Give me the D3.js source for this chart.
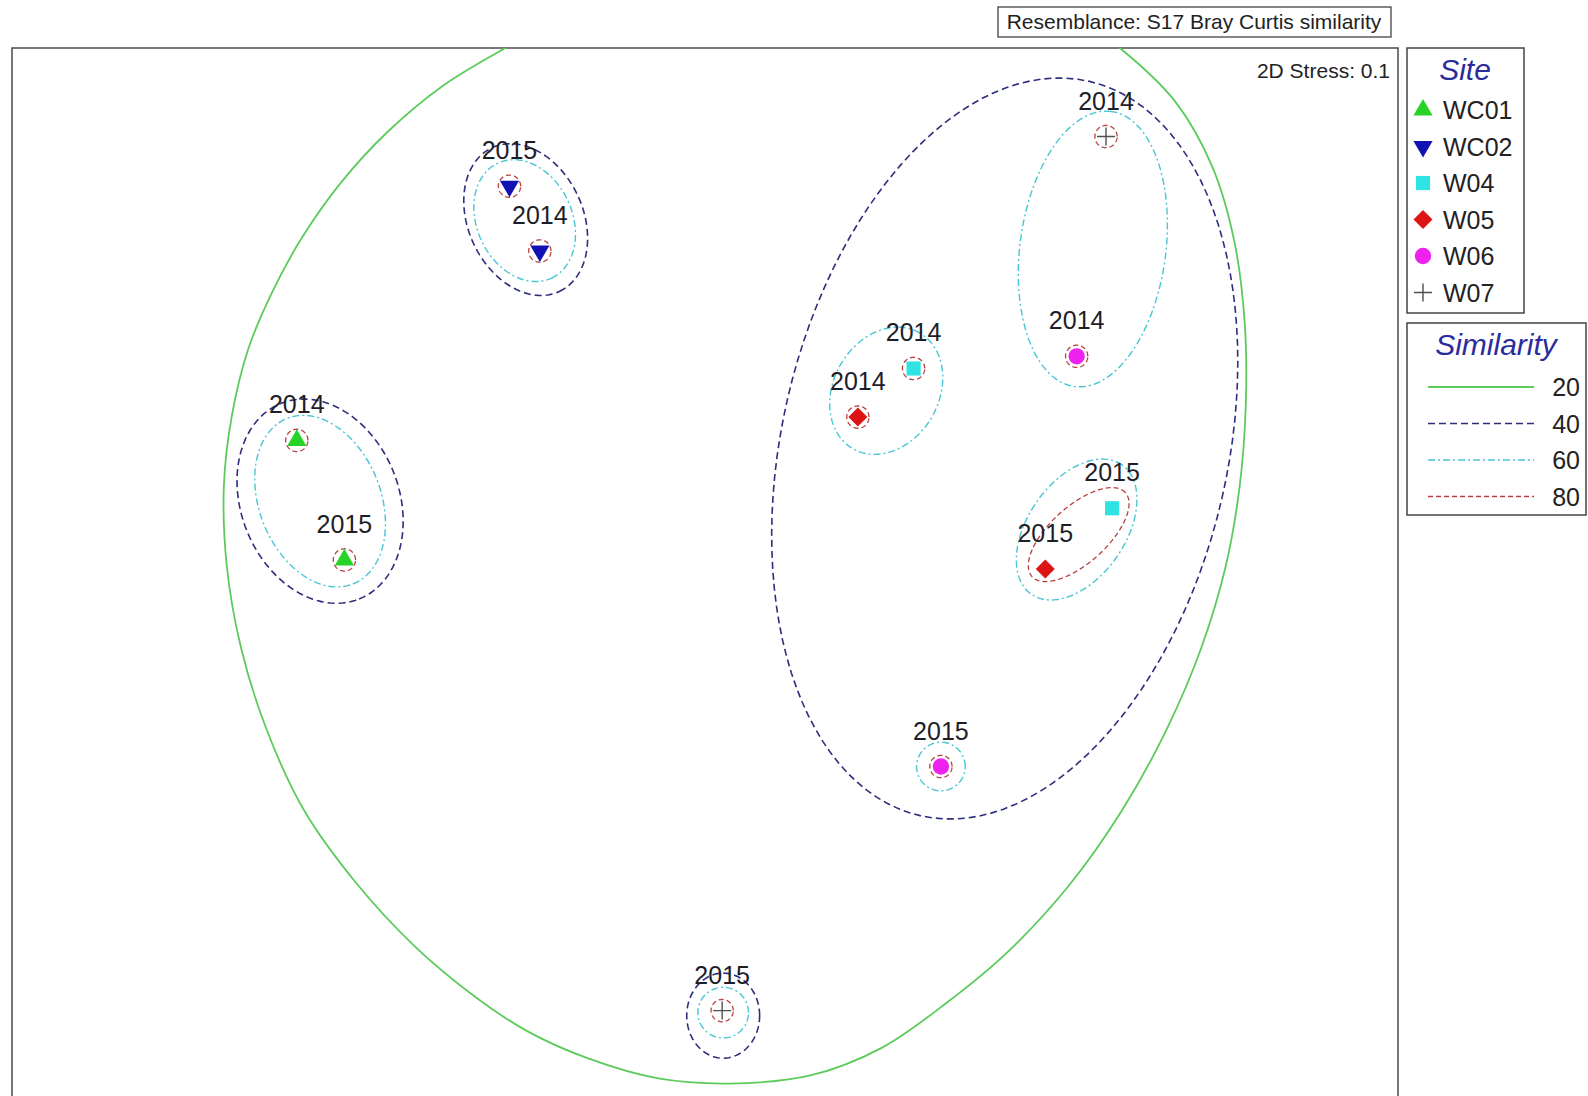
<!DOCTYPE html>
<html>
<head>
<meta charset="utf-8">
<script src="https://cdn.jsdelivr.net/npm/d3@7"></script>
<style>
  html, body { margin: 0; padding: 0; background: #fff; }
  svg { display: block; font-family: "Liberation Sans", Arial, sans-serif; }
</style>
</head>
<body>
<svg id="chart" width="1588" height="1096"></svg>
<script>
// ---- nMDS ordination: samples (site x year) ----
const sampleSite = ["WC01", "WC01", "WC02", "WC02", "W04", "W04", "W05", "W05", "W06", "W06", "W07", "W07"];
const sampleYear = ["2014", "2015", "2014", "2015", "2014", "2015", "2014", "2015", "2014", "2015", "2014", "2015"];
const mds1 = [-1.221, -1.080, -0.501, -0.591, 0.606, 1.194, 0.441, 0.996, 1.089, 0.687, 1.176, 0.039];
const mds2 = [0.375, 0.021, 0.936, 1.128, 0.588, 0.174, 0.444, -0.006, 0.624, -0.591, 1.275, -1.314];

const sites = ["WC01", "WC02", "W04", "W05", "W06", "W07"];
const simLevels = [20, 40, 60, 80];
const stressValue = 0.1;
const resemblance = "S17 Bray Curtis similarity";

// 20% similarity contour outline, in ordination units
const contour20 = [
  [0.150, 1.824], [0.450, 1.845], [0.750, 1.800], [0.990, 1.695], [1.215, 1.539],
  [1.380, 1.380], [1.491, 1.185], [1.557, 0.960], [1.587, 0.720], [1.590, 0.480],
  [1.572, 0.240], [1.530, 0.000], [1.458, -0.240], [1.356, -0.480], [1.224, -0.720],
  [1.065, -0.945], [0.885, -1.140], [0.705, -1.290], [0.510, -1.425], [0.300, -1.506],
  [0.060, -1.530], [-0.150, -1.515], [-0.360, -1.455], [-0.540, -1.374], [-0.690, -1.275],
  [-0.870, -1.125], [-1.050, -0.930], [-1.200, -0.720], [-1.311, -0.480], [-1.386, -0.240],
  [-1.428, 0.000], [-1.437, 0.240], [-1.413, 0.450], [-1.365, 0.645], [-1.296, 0.810],
  [-1.206, 0.975], [-1.089, 1.140], [-0.951, 1.290], [-0.789, 1.425], [-0.600, 1.539],
  [-0.390, 1.650], [-0.150, 1.755]
];
// cluster contours as ellipses: [cx, cy, rx, ry, angle(deg)]
const contours40 = [
  [-1.152, 0.195, 0.312, 0.234, -68.3],
  [-0.543, 1.029, 0.235, 0.170, -64.9],
  [0.876, 0.351, 0.660, 1.116, -13],
  [0.042, -1.329, 0.108, 0.126, 0]
];
const contours60 = [
  [-1.152, 0.195, 0.264, 0.180, -68.3],
  [-0.546, 1.026, 0.188, 0.141, -64.9],
  [0.525, 0.522, 0.198, 0.156, 60],
  [1.137, 0.942, 0.411, 0.216, 82.4],
  [1.089, 0.111, 0.234, 0.144, 55],
  [0.687, -0.591, 0.072, 0.072, 0],
  [0.042, -1.320, 0.075, 0.075, 0]
];
const contours80 = [
  [1.095, 0.096, 0.186, 0.084, 42]
];
const r80 = 0.033;               // single-sample 80% contour radius
const grouped80 = ["W04 2015", "W05 2015"];

// ---- layout ----
const svg = d3.select("#chart");
const frame = { x: 12, y: 48, w: 1386, h: 1060 };

const xScale = d3.scaleLinear().domain([-2, 2]).range([709 - 675.2, 709 + 675.2]);
const yScale = d3.scaleLinear().domain([-1.5, 1.5]).range([567 + 506.4, 567 - 506.4]);

const levelStyle = {
  20: { stroke: "#5ccb5c", width: 1.8, dash: null },
  40: { stroke: "#2e2e7c", width: 1.6, dash: "7,4" },
  60: { stroke: "#48c6d4", width: 1.4, dash: "7,3,2,3" },
  80: { stroke: "#b84040", width: 1.3, dash: "5,3" }
};

const siteStyle = {
  WC01: { type: d3.symbolTriangle, size: 160, rot: 0, fill: "#27d327" },
  WC02: { type: d3.symbolTriangle, size: 160, rot: 180, fill: "#1212b4" },
  W04:  { type: d3.symbolSquare, size: 200, rot: 0, fill: "#2fe3e3" },
  W05:  { type: d3.symbolSquare, size: 180, rot: 45, fill: "#de1414" },
  W06:  { type: d3.symbolCircle, size: 210, rot: 0, fill: "#ee22ee" },
  W07:  { type: "plus", size: 9, rot: 0, fill: "none" }
};

svg.append("defs").append("clipPath").attr("id", "plotClip")
  .append("rect").attr("x", frame.x).attr("y", frame.y).attr("width", frame.w).attr("height", frame.h);

// frame
svg.append("rect")
  .attr("x", frame.x).attr("y", frame.y).attr("width", frame.w).attr("height", frame.h)
  .attr("fill", "#fff").attr("stroke", "#4a4a4a").attr("stroke-width", 1.5);

const plot = svg.append("g").attr("clip-path", "url(#plotClip)");

const line = d3.line().x(d => xScale(d[0])).y(d => yScale(d[1]));

function ellipsePoints(c) {
  const [cx, cy, rx, ry, ang] = c;
  const a = ang * Math.PI / 180;
  return d3.range(0, 120).map(i => {
    const t = i / 120 * 2 * Math.PI;
    const u = rx * Math.cos(t), v = ry * Math.sin(t);
    return [cx + u * Math.cos(a) - v * Math.sin(a), cy + u * Math.sin(a) + v * Math.cos(a)];
  });
}

function styled(sel, lvl) {
  const s = levelStyle[lvl];
  sel.attr("fill", "none").attr("stroke", s.stroke).attr("stroke-width", s.width);
  if (s.dash) sel.attr("stroke-dasharray", s.dash);
  return sel;
}

// 20% contour
styled(plot.append("path")
  .attr("d", line.curve(d3.curveCatmullRomClosed.alpha(0.5))(contour20)), 20);

// 40 / 60 / 80% contours
const ellLine = d3.line().x(d => xScale(d[0])).y(d => yScale(d[1])).curve(d3.curveLinearClosed);
[[40, contours40], [60, contours60], [80, contours80]].forEach(([lvl, list]) => {
  plot.append("g").selectAll("path").data(list).join("path")
    .attr("d", c => ellLine(ellipsePoints(c)))
    .call(sel => styled(sel, lvl));
});

const samples = sampleSite.map((s, i) => ({ site: s, year: sampleYear[i], x: mds1[i], y: mds2[i] }));

// single-sample 80% circles
plot.append("g").selectAll("path")
  .data(samples.filter(d => !grouped80.includes(d.site + " " + d.year)))
  .join("path")
  .attr("d", d => ellLine(ellipsePoints([d.x, d.y, r80, r80, 0])))
  .call(sel => styled(sel, 80));

function drawMarker(g, site) {
  const st = siteStyle[site];
  if (st.type === "plus") {
    g.append("path").attr("d", `M${-st.size},0H${st.size}M0,${-st.size}V${st.size}`)
      .attr("stroke", "#505050").attr("stroke-width", 1.4).attr("fill", "none");
  } else {
    g.append("path").attr("d", d3.symbol(st.type, st.size)())
      .attr("transform", `rotate(${st.rot})`)
      .attr("fill", st.fill);
  }
}

// markers
const pts = plot.append("g").selectAll("g").data(samples).join("g")
  .attr("transform", d => `translate(${xScale(d.x)},${yScale(d.y)})`);
pts.each(function (d) { drawMarker(d3.select(this), d.site); });

// year labels
plot.append("g").selectAll("text").data(samples).join("text")
  .attr("x", d => xScale(d.x))
  .attr("y", d => yScale(d.y) - 27)
  .attr("text-anchor", "middle")
  .attr("font-size", 25)
  .attr("fill", "#1e1e28")
  .text(d => d.year);

// stress
svg.append("text")
  .attr("x", 1390).attr("y", 78)
  .attr("text-anchor", "end").attr("font-size", 21).attr("fill", "#222")
  .text(`2D Stress: ${stressValue}`);

// resemblance box
const resG = svg.append("g");
resG.append("rect").attr("x", 998).attr("y", 7).attr("width", 393).attr("height", 30)
  .attr("fill", "#fff").attr("stroke", "#444").attr("stroke-width", 1.3);
resG.append("text").attr("x", 1194).attr("y", 29).attr("text-anchor", "middle")
  .attr("font-size", 21).attr("fill", "#222")
  .text(`Resemblance: ${resemblance}`);

// site legend
const siteLeg = svg.append("g");
siteLeg.append("rect").attr("x", 1407).attr("y", 48).attr("width", 117).attr("height", 265)
  .attr("fill", "#fff").attr("stroke", "#444").attr("stroke-width", 1.5);
siteLeg.append("text").attr("x", 1465).attr("y", 80).attr("text-anchor", "middle")
  .attr("font-size", 30).attr("font-style", "italic").attr("fill", "#2b2b9c").text("Site");
const siteRows = siteLeg.selectAll("g.row").data(sites).join("g")
  .attr("class", "row")
  .attr("transform", (d, i) => `translate(1423,${110 + i * 36.5})`);
siteRows.each(function (d) { drawMarker(d3.select(this), d); });
siteRows.append("text").attr("x", 20).attr("y", 9)
  .attr("font-size", 25).attr("fill", "#222").text(d => d);

// similarity legend
const simLeg = svg.append("g");
simLeg.append("rect").attr("x", 1407).attr("y", 323).attr("width", 179).attr("height", 192)
  .attr("fill", "#fff").attr("stroke", "#444").attr("stroke-width", 1.5);
simLeg.append("text").attr("x", 1496).attr("y", 355).attr("text-anchor", "middle")
  .attr("font-size", 30).attr("font-style", "italic").attr("fill", "#2b2b9c").text("Similarity");
const simRows = simLeg.selectAll("g.row").data(simLevels).join("g")
  .attr("class", "row")
  .attr("transform", (d, i) => `translate(0,${387 + i * 36.5})`);
simRows.append("line").attr("x1", 1428).attr("x2", 1534).attr("y1", 0).attr("y2", 0)
  .each(function (d) { styled(d3.select(this), d); });
simRows.append("text").attr("x", 1580).attr("y", 9).attr("text-anchor", "end")
  .attr("font-size", 25).attr("fill", "#222").text(d => d);
</script>
</body>
</html>
